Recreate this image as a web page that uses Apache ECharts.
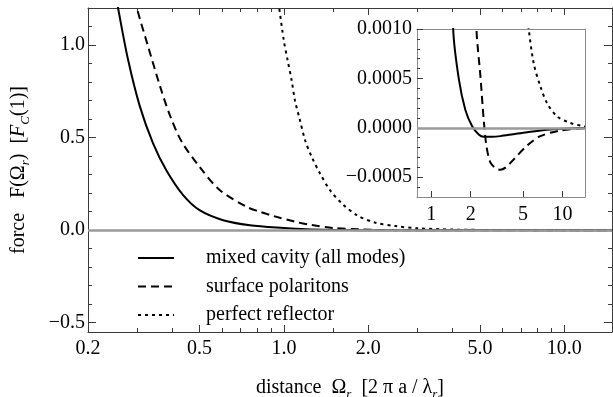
<!DOCTYPE html>
<html><head><meta charset="utf-8">
<script src="https://cdn.jsdelivr.net/npm/echarts@6/dist/echarts.min.js"></script>
<style>html,body{margin:0;padding:0;background:#fff}#c{width:613px;height:397px}</style>
</head><body><div id="c"></div>
<script>
// ---------------- data ----------------
const seriesNames = ['mixed cavity (all modes)', 'surface polaritons', 'perfect reflector'];

const omegaMixed = [0.245, 0.256, 0.278, 0.306, 0.341, 0.381, 0.437, 0.50, 0.607, 0.756, 1.0, 1.2, 1.47, 1.62, 1.82, 2.05, 2.30, 2.51, 2.9, 3.36, 4.2, 5.37, 8.07, 14.8];
const forceMixed = [1.36, 1.20, 0.92, 0.67, 0.47, 0.322, 0.189, 0.108, 0.054, 0.027, 0.012, 0.005, 0.001, 0.0005, 0.00018, 0.000016, -0.000067, -0.00009, -0.00009, -0.000084, -0.000065, -0.000044, -0.000017, -0.000002];

const omegaPolariton = [0.29, 0.299, 0.328, 0.361, 0.392, 0.431, 0.501, 0.591, 0.736, 0.82, 0.92, 1.1, 1.25, 1.5, 1.87, 2.21, 2.37, 2.51, 2.63, 2.82, 3.1, 3.36, 3.7, 4.24, 5.37, 6.77, 9.6, 14.8];
const forcePolariton = [1.32, 1.20, 0.99, 0.78, 0.62, 0.48, 0.34, 0.216, 0.126, 0.10, 0.076, 0.045, 0.028, 0.012, 0.004, 0.001, 0.00052, 0.00008, -0.00018, -0.00035, -0.00041, -0.000424, -0.0004, -0.00032, -0.00018, -0.000084, -0.000027, -0.000003];

const omegaReflector = [0.95, 0.962, 1.0, 1.03, 1.065, 1.095, 1.14, 1.19, 1.256, 1.345, 1.46, 1.61, 1.82, 2.11, 2.5, 3.0, 4.0, 5.0, 5.52, 6.03, 6.77, 7.61, 9.06, 11.4, 14.4, 14.8];
const forceReflector = [1.27, 1.20, 1.02, 0.92, 0.81, 0.70, 0.595, 0.486, 0.396, 0.306, 0.216, 0.144, 0.081, 0.041, 0.022, 0.010, 0.0033, 0.0015, 0.001, 0.00065, 0.00042, 0.00025, 0.000116, 0.00005, 0.000016, 0.000013];

const mainXTicks = [0.2, 0.5, 1, 2, 5, 10];
const mainXTickLabels = ['0.2', '0.5', '1.0', '2.0', '5.0', '10.0'];
const mainXMinorTicks = [0.3, 0.4, 0.6, 0.7, 0.8, 0.9, 1.5, 3, 4, 6, 7, 8, 9];
const mainYTicks = [-0.5, 0, 0.5, 1.0];
const mainYTickLabels = ['\u22120.5', '0.0', '0.5', '1.0'];
const mainYMinorTicks = [-0.4, -0.3, -0.2, -0.1, 0.1, 0.2, 0.3, 0.4, 0.6, 0.7, 0.8, 0.9, 1.1];

const insetXTicks = [1, 2, 5, 10];
const insetXTickLabels = ['1', '2', '5', '10'];
const insetYTicks = [-0.0005, 0, 0.0005, 0.001];
const insetYTickLabels = ['\u22120.0005', '0.0000', '0.0005', '0.0010'];
const insetYMinorTicks = [-0.0006, -0.0004, -0.0003, -0.0002, -0.0001, 0.0001, 0.0002, 0.0003, 0.0004, 0.0006, 0.0007, 0.0008, 0.0009];

// ---------------- chart ----------------
const FONT = 'Liberation Serif';
const FRAME = '#3a3a3a';
const INSET_FRAME = '#8a8a8a';
function pairs(xs, ys) { return xs.map((x, i) => [x, ys[i]]); }
function lookup(ticks, labels) {
  return function (v) {
    for (let i = 0; i < ticks.length; i++) {
      if (Math.abs(v - ticks[i]) <= 1e-12 + Math.abs(ticks[i]) * 1e-6) return labels[i];
    }
    return '';
  };
}
const rich = {
  a: { fontFamily: FONT, fontSize: 20, color: '#000', lineHeight: 26 },
  it: { fontFamily: FONT, fontSize: 20, fontStyle: 'italic', color: '#000', lineHeight: 26 },
  s: { fontFamily: FONT, fontSize: 13, fontStyle: 'italic', color: '#000', lineHeight: 13, verticalAlign: 'bottom' }
};
const labelFont = { fontFamily: FONT, fontSize: 20, color: '#000' };

function xAxisCfg(grid, min, max, pos, lineColor, showLine, tickVals, tickLen, labelVals, labelTexts, extra) {
  return Object.assign({
    type: 'log', logBase: 10, gridIndex: grid, min: min, max: max, position: pos,
    axisLine: { show: showLine, onZero: false, lineStyle: { color: lineColor, width: 1 } },
    axisTick: tickVals ? { show: true, inside: true, length: tickLen, customValues: tickVals, lineStyle: { color: lineColor, width: 1 } } : { show: false },
    axisLabel: labelVals ? Object.assign({ show: true, customValues: labelVals, formatter: lookup(labelVals, labelTexts), margin: 7 }, labelFont) : { show: false },
    splitLine: { show: false }, minorTick: { show: false }, axisPointer: { show: false }
  }, extra || {});
}
function yAxisCfg(grid, min, max, pos, lineColor, showLine, tickVals, tickLen, labelVals, labelTexts, margin, extra) {
  return Object.assign({
    type: 'value', gridIndex: grid, min: min, max: max, position: pos,
    axisLine: { show: showLine, onZero: false, lineStyle: { color: lineColor, width: 1 } },
    axisTick: tickVals ? { show: true, inside: true, length: tickLen, customValues: tickVals, lineStyle: { color: lineColor, width: 1 } } : { show: false },
    axisLabel: labelVals ? Object.assign({ show: true, customValues: labelVals, formatter: lookup(labelVals, labelTexts), margin: margin }, labelFont) : { show: false },
    splitLine: { show: false }, minorTick: { show: false }, axisPointer: { show: false }
  }, extra || {});
}

const MX0 = 0.2, MX1 = 14.8, MY0 = -0.55, MY1 = 1.2;
const IX0 = 0.78, IX1 = 14.8, IY0 = -0.0007, IY1 = 0.001;

const xAxes = [
  xAxisCfg(0, MX0, MX1, 'bottom', FRAME, true, mainXTicks, 7, mainXTicks, mainXTickLabels, {
    name: '{a|distance  \u03A9}{s|r}{a|  [2 \u03C0 a / \u03BB}{s|r}{a|]}',
    nameLocation: 'middle', nameGap: 43, nameTextStyle: { rich: rich }
  }),
  xAxisCfg(0, MX0, MX1, 'bottom', FRAME, false, mainXMinorTicks, 4, null, null),
  xAxisCfg(0, MX0, MX1, 'top', FRAME, true, mainXTicks, 7, null, null),
  xAxisCfg(0, MX0, MX1, 'top', FRAME, false, mainXMinorTicks, 4, null, null),
  xAxisCfg(1, IX0, IX1, 'bottom', INSET_FRAME, true, insetXTicks, 6, insetXTicks, insetXTickLabels, {}),
  xAxisCfg(1, IX0, IX1, 'top', INSET_FRAME, true, null, 0, null, null)
];
xAxes[4].axisLabel.margin = 8;
xAxes[4].axisTick.lineStyle.color = FRAME;

const yAxes = [
  yAxisCfg(0, MY0, MY1, 'left', FRAME, true, mainYTicks, 8, mainYTicks, mainYTickLabels, 3, {
    name: '{a|force   F(\u03A9}{s|r}{a|)  [}{it|F}{s|C}{a|(1)]}',
    nameLocation: 'middle', nameGap: 56, nameTextStyle: { rich: rich }
  }),
  yAxisCfg(0, MY0, MY1, 'left', FRAME, false, mainYMinorTicks, 4, null, null, 0),
  yAxisCfg(0, MY0, MY1, 'right', FRAME, true, mainYTicks, 8, null, null, 0),
  yAxisCfg(0, MY0, MY1, 'right', FRAME, false, mainYMinorTicks, 4, null, null, 0),
  yAxisCfg(1, IY0, IY1, 'left', INSET_FRAME, true, insetYTicks, 6, insetYTicks, insetYTickLabels, 5),
  yAxisCfg(1, IY0, IY1, 'left', INSET_FRAME, false, insetYMinorTicks, 3, null, null, 0),
  yAxisCfg(1, IY0, IY1, 'right', INSET_FRAME, true, null, 0, null, null, 0)
];
yAxes[4].axisTick.lineStyle.color = FRAME;
yAxes[5].axisTick.lineStyle.color = FRAME;

const zeroLine = {
  silent: true, symbol: ['none', 'none'], animation: false,
  label: { show: false }, emphasis: { disabled: true },
  lineStyle: { color: '#9a9a9a', width: 2.5, type: 'solid' },
  data: [{ yAxis: 0 }]
};
const styles = [
  { color: '#000', width: 2, type: 'solid' },
  { color: '#000', width: 2, type: [8, 5] },
  { color: '#000', width: 2, type: [3, 4] }
];
const dataSets = [
  pairs(omegaMixed, forceMixed),
  pairs(omegaPolariton, forcePolariton),
  pairs(omegaReflector, forceReflector)
];
const series = [];
[0, 1].forEach(function (g) {
  dataSets.forEach(function (d, i) {
    const s = {
      name: seriesNames[i], type: 'line', data: d,
      xAxisIndex: g === 0 ? 0 : 4, yAxisIndex: g === 0 ? 0 : 4,
      showSymbol: false, symbol: 'none', smooth: 0.3, clip: true,
      lineStyle: styles[i], itemStyle: { color: '#000' },
      emphasis: { disabled: true }, animation: false, z: 3
    };
    if (i === 0) s.markLine = zeroLine;
    series.push(s);
  });
});

const chart = echarts.init(document.getElementById('c'), null, { renderer: 'canvas' });
chart.setOption({
  animation: false,
  backgroundColor: '#fff',
  grid: [
    { left: 88, top: 8, right: 1, bottom: 65, containLabel: false, outerBoundsMode: 'none' },
    { left: 417, top: 29, width: 168, height: 168, containLabel: false, outerBoundsMode: 'none', show: true, backgroundColor: '#fff', borderWidth: 0 }
  ],
  xAxis: xAxes,
  yAxis: yAxes,
  legend: {
    orient: 'vertical', left: 132, top: 243, itemWidth: 36, itemHeight: 14, itemGap: 8.5,
    data: seriesNames, selectedMode: false, itemStyle: { opacity: 0 },
    textStyle: { fontFamily: FONT, fontSize: 20, color: '#000', lineHeight: 20, padding: [0, 0, 0, 27] }
  },
  series: series
});
</script>
</body></html>
